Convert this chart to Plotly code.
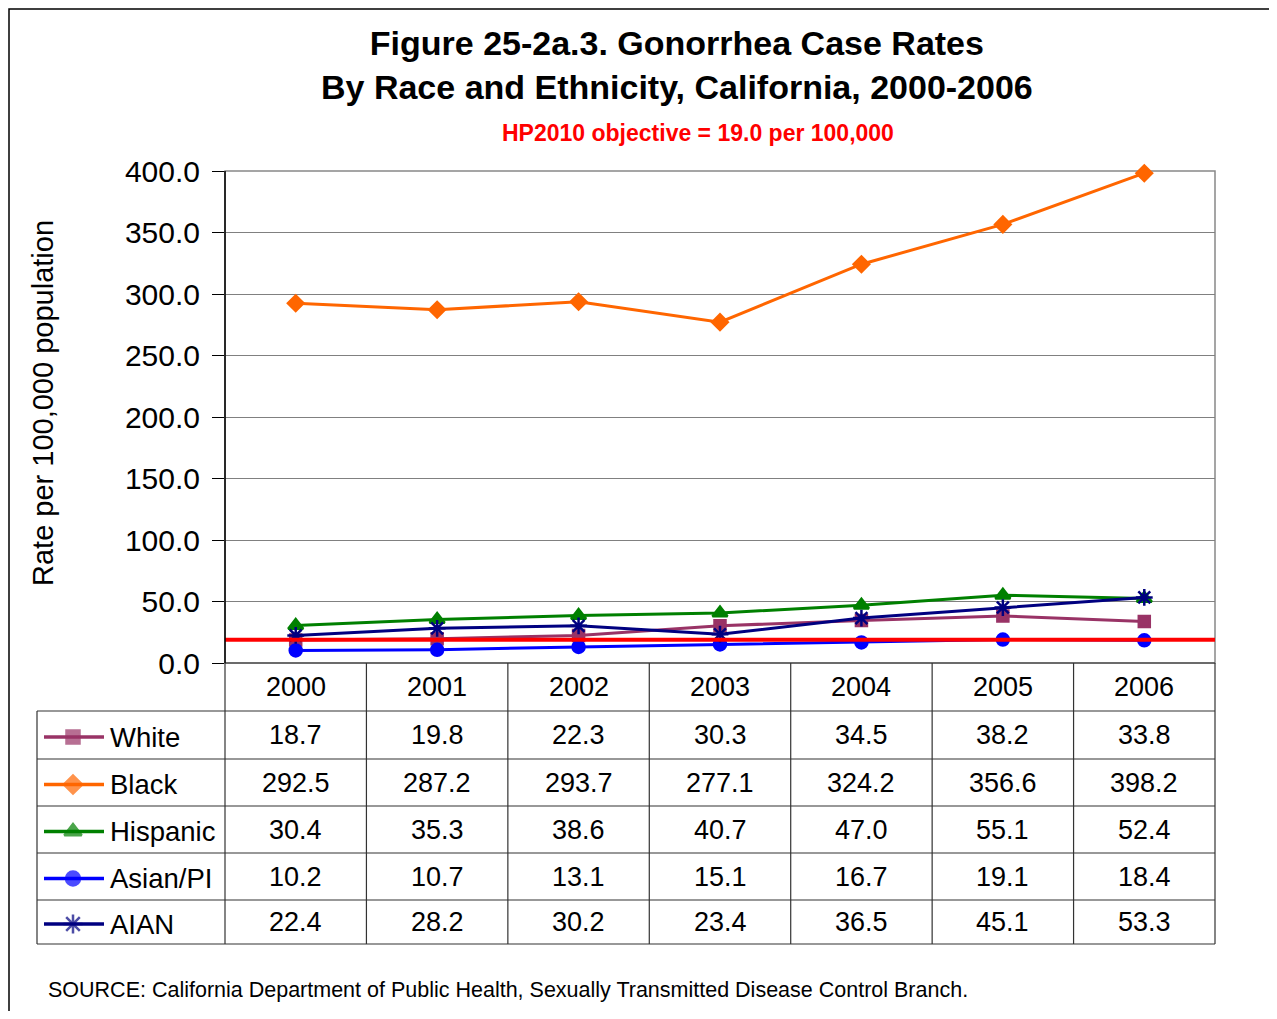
import plotly.graph_objects as go

years = ["2000", "2001", "2002", "2003", "2004", "2005", "2006"]
groups = ["White", "Black", "Hispanic", "Asian/PI", "AIAN"]
white = [18.7, 19.8, 22.3, 30.3, 34.5, 38.2, 33.8]
black = [292.5, 287.2, 293.7, 277.1, 324.2, 356.6, 398.2]
hispanic = [30.4, 35.3, 38.6, 40.7, 47.0, 55.1, 52.4]
asian = [10.2, 10.7, 13.1, 15.1, 16.7, 19.1, 18.4]
aian = [22.4, 28.2, 30.2, 23.4, 36.5, 45.1, 53.3]
hp2010 = 19.0
yticks = [0, 50, 100, 150, 200, 250, 300, 350, 400]

series = [white, black, hispanic, asian, aian]
colors = ["#993366", "#FF6600", "#008000", "#0000FF", "#000080"]
symbols = ["square", "diamond", "triangle-up", "circle", "asterisk-open"]
msizes = [11, 12, 13, 12, 14]

FONT = "Arial, Liberation Sans, sans-serif"

# page has an 8px body margin, so the figure is a bit smaller than the window
OFF = 8
W, H = 1277 - 2 * OFF, 1019 - 2 * OFF

def px(x):
    return (x - OFF) / W

def py(y):
    return 1 - (y - OFF) / H

plot_l, plot_r, plot_t, plot_b = 225, 1215, 171, 663
tab_l = 37
row_lines = [663, 711, 759, 806, 853, 900, 944]
col_w = (plot_r - plot_l) / len(years)

fig = go.Figure()

for name, vals, c, s, ms in zip(groups, series, colors, symbols, msizes):
    fig.add_trace(go.Scatter(
        x=years, y=vals, mode="lines+markers", name=name,
        line=dict(color=c, width=3),
        marker=dict(symbol=s, size=ms, color=c, line=dict(color=c, width=2.5)),
        cliponaxis=False, showlegend=False))

# legend samples inside the table (overlay axis in page pixels)
for i, (name, c, s, ms) in enumerate(zip(groups, colors, symbols, msizes)):
    yc = (row_lines[i + 1] + row_lines[i + 2]) / 2 + 2
    fig.add_trace(go.Scatter(
        x=[44, 73, 104], y=[yc, yc, yc], mode="lines+markers",
        line=dict(color=c, width=3.5),
        marker=dict(symbol=s, size=[0, ms + 2, 0], color=c, line=dict(color=c, width=2.5)),
        xaxis="x2", yaxis="y2", showlegend=False, hoverinfo="skip", cliponaxis=False))
    fig.add_annotation(x=px(108), y=py(yc), xref="paper", yref="paper",
                       text=name, showarrow=False, xanchor="left", yanchor="middle",
                       font=dict(size=27.5, color="black", family=FONT))

shapes = []
# outer frame
shapes.append(dict(type="rect", xref="paper", yref="paper",
                   x0=px(9), x1=px(1300), y0=py(9), y1=py(1040),
                   line=dict(color="black", width=1.5), layer="below"))
# plot area border
shapes.append(dict(type="rect", xref="paper", yref="paper", x0=px(plot_l), x1=px(plot_r),
                   y0=py(plot_b), y1=py(plot_t), line=dict(color="#888888", width=1.5),
                   layer="below"))
# HP2010 objective line
shapes.append(dict(type="line", xref="paper", yref="y", x0=px(plot_l), x1=px(plot_r),
                   y0=hp2010, y1=hp2010, line=dict(color="#FF0000", width=4)))
# table horizontal lines
for k, yl in enumerate(row_lines):
    x0 = plot_l if k == 0 else tab_l
    shapes.append(dict(type="line", xref="paper", yref="paper",
                       x0=px(x0), x1=px(plot_r), y0=py(yl), y1=py(yl),
                       line=dict(color="#333333", width=1.2)))
# table vertical lines
for j in range(len(years) + 1):
    xl = plot_l + j * col_w
    shapes.append(dict(type="line", xref="paper", yref="paper",
                       x0=px(xl), x1=px(xl), y0=py(plot_b), y1=py(row_lines[-1]),
                       line=dict(color="#333333", width=1.2)))
shapes.append(dict(type="line", xref="paper", yref="paper",
                   x0=px(tab_l), x1=px(tab_l), y0=py(row_lines[1]), y1=py(row_lines[-1]),
                   line=dict(color="#333333", width=1.2)))
# left axis line
shapes.append(dict(type="line", xref="paper", yref="paper", x0=px(plot_l), x1=px(plot_l),
                   y0=py(plot_b), y1=py(plot_t), line=dict(color="black", width=1.5)))
fig.update_layout(shapes=shapes)

# table values and year header (x is the category index on the main axis)
for j, yr in enumerate(years):
    fig.add_annotation(x=j, y=py((row_lines[0] + row_lines[1]) / 2), xref="x", yref="paper",
                       text=yr, showarrow=False, xanchor="center", yanchor="middle",
                       font=dict(size=27, color="black", family=FONT))
    for i, vals in enumerate(series):
        yc = (row_lines[i + 1] + row_lines[i + 2]) / 2
        fig.add_annotation(x=j, y=py(yc), xref="x", yref="paper",
                           text=f"{vals[j]:.1f}", showarrow=False,
                           xanchor="center", yanchor="middle",
                           font=dict(size=27, color="black", family=FONT))

# titles
fig.add_annotation(x=px(677), y=py(65), xref="paper", yref="paper", showarrow=False,
                   text="<b>Figure 25-2a.3. Gonorrhea Case Rates<br>By Race and Ethnicity, California, 2000-2006</b>",
                   font=dict(size=34, color="black", family=FONT), xanchor="center", yanchor="middle")
fig.add_annotation(x=px(698), y=py(133), xref="paper", yref="paper", showarrow=False,
                   text="<b>HP2010 objective = 19.0 per 100,000</b>",
                   font=dict(size=23, color="#FF0000", family=FONT), xanchor="center", yanchor="middle")
fig.add_annotation(x=px(43), y=py(403), xref="paper", yref="paper", showarrow=False,
                   text="Rate per 100,000 population", textangle=-90,
                   font=dict(size=29, color="black", family=FONT), xanchor="center", yanchor="middle")
fig.add_annotation(x=px(46), y=py(990), xref="paper", yref="paper", showarrow=False,
                   xanchor="left", yanchor="middle",
                   text="SOURCE: California Department of Public Health, Sexually Transmitted Disease Control Branch.",
                   font=dict(size=21.5, color="black", family=FONT))

fig.update_layout(
    width=W, height=H,
    margin=dict(l=0, r=0, t=0, b=0, autoexpand=False),
    paper_bgcolor="white", plot_bgcolor="rgba(0,0,0,0)",
    xaxis=dict(domain=[px(plot_l), px(plot_r)], type="category", range=[-0.5, 6.5],
               showticklabels=False, showgrid=False, zeroline=False, showline=False, ticks="",
               automargin=False),
    yaxis=dict(domain=[py(plot_b), py(plot_t)], range=[0, 400], tickvals=yticks,
               ticktext=[f"{v:.1f}" for v in yticks], tickfont=dict(size=30, color="black", family=FONT),
               ticks="outside", ticklen=12, tickcolor="black", ticklabelstandoff=6,
               showgrid=True, gridcolor="#808080",
               gridwidth=1, zeroline=False, showline=False, automargin=False),
    xaxis2=dict(domain=[0, 1], range=[OFF, OFF + W], visible=False, anchor="y2", automargin=False),
    yaxis2=dict(domain=[0, 1], range=[OFF + H, OFF], visible=False, anchor="x2", automargin=False),
)

fig.write_html("out.html")
